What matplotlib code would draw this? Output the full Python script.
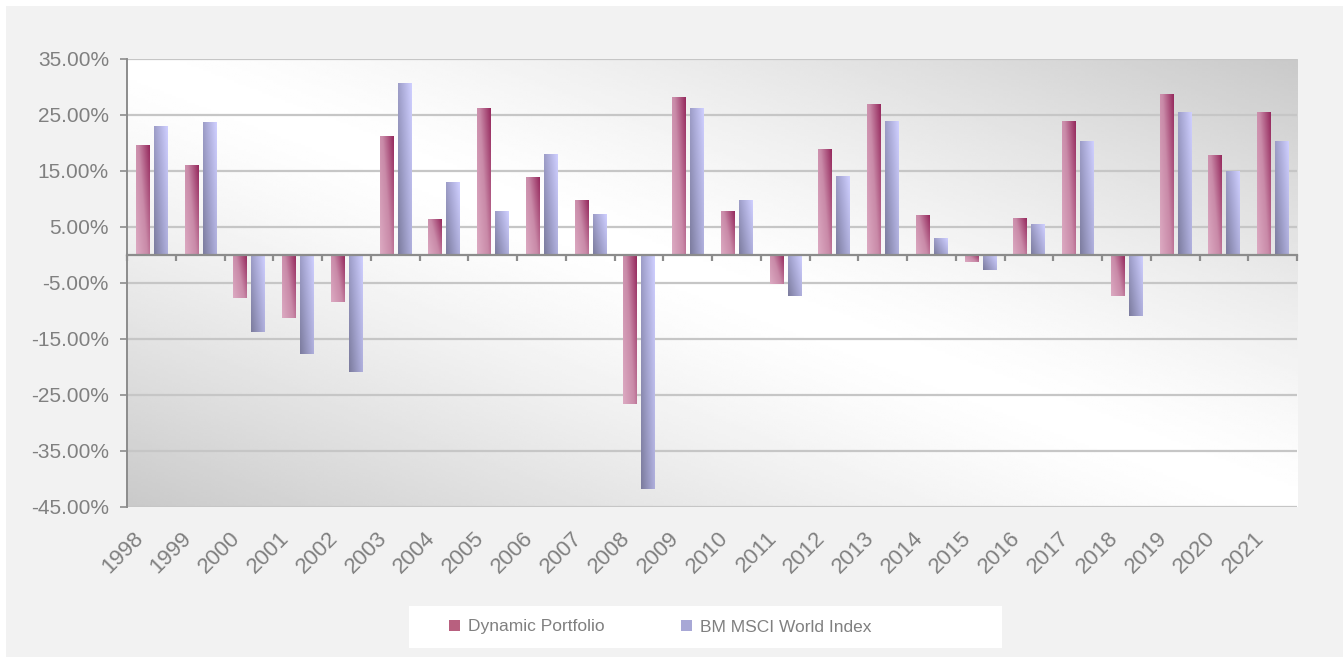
import numpy as np
import matplotlib
matplotlib.use("Agg")
import matplotlib.pyplot as plt
import matplotlib.transforms as mtransforms
from matplotlib.colors import LinearSegmentedColormap
from matplotlib.patches import Rectangle, Patch

years = [str(y) for y in range(1998, 2022)]
dynamic = [19.5, 15.9, -7.7, -11.3, -8.4, 21.1, 6.4, 26.1, 13.8, 9.8, -26.6, 28.2,
           7.7, -5.2, 18.8, 26.8, 7.0, -1.3, 6.6, 23.9, -7.3, 28.6, 17.7, 25.4]
msci = [22.9, 23.6, -13.8, -17.7, -20.9, 30.7, 13.0, 7.7, 18.0, 7.3, -41.8, 26.1,
        9.8, -7.3, 14.1, 23.9, 3.0, -2.7, 5.5, 20.2, -10.9, 25.4, 15.0, 20.2]
series_names = ["Dynamic Portfolio", "BM MSCI World Index"]
yticks = [35, 25, 15, 5, -5, -15, -25, -35, -45]

GRAY_TXT = "#808080"
plt.rcParams['font.family'] = ['Liberation Sans', 'DejaVu Sans']

# bar gradients: t=0 bottom-left, t=1 top-right
cmap_dp = LinearSegmentedColormap.from_list("dp", ["#dcaac2", "#c98aa8", "#962a5e"])
cmap_ms = LinearSegmentedColormap.from_list("ms", ["#7c7c9e", "#a6a6d2", "#cfcfff"])

W, H = 1343, 657
fig = plt.figure(figsize=(W / 100, H / 100), dpi=100)
fig.patch.set_facecolor("white")
fig.patches.append(Rectangle((6 / W, 0), 1, 1 - 6 / H, transform=fig.transFigure,
                             facecolor="#f2f2f2", edgecolor="none", zorder=-5))
# legend panel
fig.patches.append(Rectangle((409 / W, 1 - 648 / H), 593 / W, 42 / H,
                             transform=fig.transFigure, facecolor="white",
                             edgecolor="none", zorder=-4))

left, right, top, bottom = 127, 1297, 59, 507
ax = fig.add_axes([left / W, 1 - bottom / H, (right - left) / W, (bottom - top) / H])
ax.set_facecolor("none")

# plot area background: white diagonal band, grey towards top-right / bottom-left
gx, gy = np.meshgrid(np.linspace(0, 1, 300), np.linspace(0, 1, 200))
t = gx + gy - 1
bg = 1 - 0.21 * np.abs(t) ** 1.3
ax.imshow(bg, cmap="gray", vmin=0, vmax=1, extent=(0, 1, 0, 1), origin="lower",
          transform=ax.transAxes, aspect="auto", zorder=0, interpolation="bilinear")

x = np.arange(len(years))
bw = 0.27
off = 0.185
bars_dp = ax.bar(x - off, dynamic, bw, color="none", zorder=3)
bars_ms = ax.bar(x + off, msci, bw, color="none", zorder=3)

bx, by = np.meshgrid(np.linspace(0, 1, 20), np.linspace(0, 1, 80))
grad = np.clip(0.6 * bx + 0.4 * by, 0, 1)
for bars, cm in ((bars_dp, cmap_dp), (bars_ms, cmap_ms)):
    for r in bars:
        x0, y0 = r.get_x(), r.get_y()
        x1, y1 = x0 + r.get_width(), y0 + r.get_height()
        ax.imshow(grad, cmap=cm, vmin=0, vmax=1, origin="lower", aspect="auto",
                  extent=(x0, x1, min(y0, y1), max(y0, y1)), zorder=3,
                  interpolation="bilinear")

ax.set_xlim(-0.5, len(years) - 0.5)
ax.set_ylim(-45, 35)

# horizontal grid
for v in yticks:
    ax.axhline(v, color="#c6c6c6", lw=1.6, zorder=1)

ax.set_yticks(yticks, [f"{v:.2f}%" for v in yticks])
ax.tick_params(axis="y", direction="out", length=5, width=1.2, color="#8c8c8c",
               labelcolor=GRAY_TXT, labelsize=15, pad=8)

# category axis at zero, ticks between categories
ax.spines["bottom"].set_position(("data", 0))
ax.spines["bottom"].set_color("#8c8c8c")
ax.spines["bottom"].set_linewidth(1.6)
ax.spines["bottom"].set_zorder(4)
ax.set_xticks(np.arange(-0.5, len(years), 1.0))
ax.tick_params(axis="x", direction="out", length=4, width=1.6, color="#8c8c8c",
               labelbottom=False)
ax.spines["left"].set_color("#8c8c8c")
ax.spines["left"].set_linewidth(1.4)
ax.spines["top"].set_visible(False)
ax.spines["right"].set_visible(False)

# year labels below plot area
sec = ax.secondary_xaxis("bottom")
sec.spines["bottom"].set_visible(False)
sec.set_xticks(x, years)
sec.tick_params(length=0, pad=15, labelsize=16, labelcolor=GRAY_TXT)
shift = mtransforms.ScaledTranslation(-19 / 100, 0, fig.dpi_scale_trans)
for lab in sec.get_xticklabels():
    lab.set_rotation(45)
    lab.set_ha("right")
    lab.set_va("top")
    lab.set_rotation_mode("anchor")
    lab.set_transform(lab.get_transform() + shift)

# legend
handles = [Patch(facecolor="#b8607f", edgecolor="none"),
           Patch(facecolor="#a8a8d6", edgecolor="none")]
leg = fig.legend(handles, series_names, loc="center left", ncol=2,
                 bbox_to_anchor=(449 / W, 1 - 627 / H),
                 frameon=False, fontsize=12.5, handlelength=0.65, handleheight=0.65,
                 handletextpad=0.45, columnspacing=4.4, borderaxespad=0, borderpad=0)
for txt in leg.get_texts():
    txt.set_color(GRAY_TXT)

fig.savefig("out.png", dpi=100)
